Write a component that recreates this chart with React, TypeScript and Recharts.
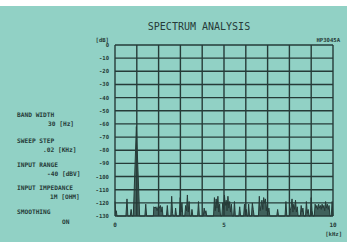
import React from "react";
import { ComposedChart, Area, XAxis, YAxis, ReferenceLine } from "recharts";

const freqKHz = [
  0.0, 0.03, 0.06, 0.09, 0.5, 0.55, 0.59, 0.7, 0.74, 0.78, 0.84, 0.98, 1.13,
  1.37, 1.41, 1.45, 1.76, 1.78, 1.84, 1.88, 1.93, 1.98, 2.03, 2.08, 2.12, 2.16, 2.2,
  2.36, 2.4, 2.44, 2.56, 2.6, 2.64, 2.68, 2.75, 2.78, 2.82,
  2.95, 2.99, 3.03, 3.07, 3.11, 3.2, 3.24, 3.28, 3.32, 3.36, 3.4, 3.44,
  3.5, 3.53, 3.57, 3.79, 3.83, 3.87, 4.05, 4.09, 4.13, 4.17, 4.21,
  4.52, 4.56, 4.6, 4.64, 4.68, 4.72, 4.76, 4.8, 4.84,
  4.9, 4.94, 4.98, 5.02, 5.06, 5.1, 5.14, 5.18, 5.22, 5.26, 5.3, 5.34, 5.38,
  5.44, 5.48, 5.52, 5.68, 5.72, 5.76, 5.9, 5.94, 5.98, 6.02, 6.06,
  6.1, 6.13, 6.17, 6.26, 6.3, 6.34, 6.38,
  6.58, 6.62, 6.66, 6.7, 6.74, 6.78, 6.82, 6.86, 6.9, 6.94, 6.98, 7.02, 7.06, 7.1,
  7.42, 7.46, 7.5, 7.8, 7.84, 7.88,
  8.0, 8.04, 8.08, 8.12, 8.16, 8.2, 8.24, 8.28, 8.32, 8.36, 8.4,
  8.5, 8.54, 8.58, 8.62, 8.66, 8.74, 8.78, 8.82, 8.86, 8.9,
  8.96, 9.0, 9.04, 9.08,
  9.14, 9.18, 9.22, 9.26, 9.3, 9.34, 9.38, 9.42, 9.46, 9.5, 9.54, 9.58, 9.62, 9.66, 9.7, 9.74, 9.78, 9.82, 9.86,
  9.92, 9.96, 10.0,
];

const levelDB = [
  -119, -128, -126, -130, -130, -117, -130, -130, -125, -130, -130, -62, -130,
  -130, -121, -130, -130, -123, -124, -123, -126, -123, -124, -122, -127, -123, -130,
  -130, -122, -130, -130, -115, -128, -130, -130, -124, -130,
  -130, -116, -127, -120, -130, -130, -122, -126, -114, -127, -119, -130,
  -130, -125, -130, -130, -119, -130, -130, -124, -128, -126, -130,
  -130, -116, -126, -117, -124, -115, -127, -121, -130,
  -130, -120, -125, -114, -122, -118, -126, -115, -124, -119, -127, -121, -130,
  -130, -119, -130, -130, -123, -130, -130, -121, -127, -125, -130,
  -130, -121, -130, -130, -120, -125, -130,
  -130, -115, -126, -122, -118, -125, -116, -120, -117, -126, -121, -127, -124, -130,
  -130, -125, -130, -130, -119, -130,
  -130, -126, -123, -117, -127, -121, -125, -118, -127, -123, -130,
  -130, -122, -127, -124, -130, -130, -119, -128, -125, -130,
  -130, -116, -126, -130,
  -130, -121, -124, -122, -125, -121, -124, -122, -125, -121, -124, -122, -126, -119, -124, -121, -125, -122, -130,
  -130, -119, -130,
];

const xGrid = [0, 1, 2, 3, 4, 5, 6, 7, 8, 9, 10];
const yTicks = [0, -10, -20, -30, -40, -50, -60, -70, -80, -90, -100, -110, -120, -130];
const xTicks = [0, 5, 10];

const title = "SPECTRUM ANALYSIS";
const model = "HP3045A";
const yUnit = "[dB]";
const xUnit = "[kHz]";
const settings: [string, string][] = [
  ["BAND WIDTH", "30 [Hz]"],
  ["SWEEP STEP", ".02 [KHz]"],
  ["INPUT RANGE", "-40 [dBV]"],
  ["INPUT IMPEDANCE", "1M [OHM]"],
  ["SMOOTHING", "ON"],
];

const data = freqKHz.map((f, i) => ({ f, v: levelDB[i] }));

const BG = "#91d1c5";
const INK = "#263b38";
const FONT = "'DejaVu Sans Mono', monospace";

const labelY = [115, 141, 165, 188, 212];
const valueY = [124, 150, 174, 197, 222];
const valueX = [48, 43, 47, 50, 62];

export default function App() {
  return (
    <div style={{ position: "fixed", left: 0, top: 0, width: 347, height: 242, background: "#ffffff", overflow: "hidden" }}>
      <div style={{ position: "absolute", left: 0, top: 6, width: 347, height: 236, background: BG }} />
      <div style={{ position: "absolute", left: 0, top: 0 }}>
        <ComposedChart
          width={347}
          height={242}
          data={data}
          margin={{ top: 45, right: 14, bottom: 0, left: 85 }}
        >
          <XAxis
            dataKey="f"
            type="number"
            domain={[0, 10]}
            ticks={xTicks}
            height={26}
            axisLine={false}
            tickLine={false}
            tickSize={0}
            tickMargin={7}
            tick={{ fill: INK, fontSize: 6, fontFamily: FONT, fontWeight: "bold" }}
          />
          <YAxis
            type="number"
            domain={[-130, 0]}
            ticks={yTicks}
            width={30}
            axisLine={false}
            tickLine={false}
            tickSize={0}
            tickMargin={6}
            interval={0}
            tick={{ fill: INK, fontSize: 5.6, fontFamily: FONT, fontWeight: "bold" }}
          />
          {xGrid.map((x) => (
            <ReferenceLine key={"x" + x} x={x} stroke={INK} strokeWidth={1.4} />
          ))}
          {yTicks.map((y) => (
            <ReferenceLine key={"y" + y} y={y} stroke={INK} strokeWidth={1.4} />
          ))}
          <Area
            dataKey="v"
            type="linear"
            baseValue={-130}
            stroke={INK}
            strokeWidth={1}
            fill={INK}
            fillOpacity={0.75}
            isAnimationActive={false}
            dot={false}
            activeDot={false}
          />
        </ComposedChart>
      </div>
      <svg
        width={347}
        height={242}
        style={{ position: "absolute", left: 0, top: 0, pointerEvents: "none" }}
      >
        <text x={199} y={27} textAnchor="middle" dominantBaseline="middle" fontFamily={FONT} fontSize={10} fill={INK}>
          {title}
        </text>
        <text x={109} y={40} textAnchor="end" dominantBaseline="middle" fontFamily={FONT} fontSize={5.6} fontWeight="bold" fill={INK}>
          {yUnit}
        </text>
        <text x={340} y={40} textAnchor="end" dominantBaseline="middle" fontFamily={FONT} fontSize={5.6} fontWeight="bold" fill={INK}>
          {model}
        </text>
        <text x={342} y={234} textAnchor="end" dominantBaseline="middle" fontFamily={FONT} fontSize={5.6} fontWeight="bold" fill={INK}>
          {xUnit}
        </text>
        {settings.map(([label, value], i) => (
          <g key={label}>
            <text x={17} y={labelY[i]} dominantBaseline="middle" fontFamily={FONT} fontSize={6.2} fontWeight="bold" fill={INK}>
              {label}
            </text>
            <text x={valueX[i]} y={valueY[i]} dominantBaseline="middle" fontFamily={FONT} fontSize={6.2} fontWeight="bold" fill={INK}>
              {value}
            </text>
          </g>
        ))}
      </svg>
    </div>
  );
}
